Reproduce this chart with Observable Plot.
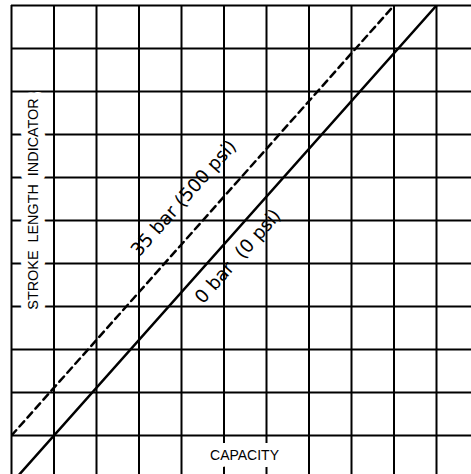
<!DOCTYPE html>
<html>
<head>
<meta charset="utf-8">
<script src="https://cdn.jsdelivr.net/npm/d3@7"></script>
<script src="https://cdn.jsdelivr.net/npm/@observablehq/plot@0.6"></script>
<style>
  html, body { margin: 0; padding: 0; background: #fff; }
  #chart svg { display: block; }
</style>
</head>
<body>
<div id="chart"></div>
<script>
// ---- data ----
const xTicks = [0, 1, 2, 3, 4, 5, 6, 7, 8, 9, 10];
const yTicks = [0, 1, 2, 3, 4, 5, 6, 7, 8, 9, 10];
const seriesNames = ["0 bar  (0 psi)", "35 bar (500 psi)"];
const solidX = [0.1, 10];   // 0 bar line (capacity)
const solidY = [-1, 10];    // stroke length
const dashedX = [0, 9];     // 35 bar line
const dashedY = [0, 10];
const xLabel = "CAPACITY";
const yLabel = "STROKE  LENGTH  INDICATOR";

// ---- layout ----
const W = 471, H = 474;
const xRange = [11, 436], yRange = [435, 5];
const kx = (xRange[1] - xRange[0]) / 10, ky = (yRange[0] - yRange[1]) / 10;

const solid = solidX.map((x, i) => ({x, y: solidY[i]}));
const dashed = dashedX.map((x, i) => ({x, y: dashedY[i]}));

// label placement along each line: fraction t, perpendicular pixel offset
function labelAlong(pts, t, off, text) {
  const [a, b] = pts;
  const y0 = 0, y1 = 10;
  const xa = a.x + (b.x - a.x) * (y0 - a.y) / (b.y - a.y);
  const xb = a.x + (b.x - a.x) * (y1 - a.y) / (b.y - a.y);
  const x = xa + t * (xb - xa), y = y0 + t * (y1 - y0);
  const px = (xb - xa) * kx, py = (y1 - y0) * ky;
  const len = Math.hypot(px, py);
  const nx = -py / len, ny = -px / len; // up-left normal in screen coords
  const angle = -Math.atan2(py, px) * 180 / Math.PI;
  return {x, y, dx: off * nx, dy: off * ny, angle, text};
}
const lblDashed = labelAlong(dashed, 0.507, 29, seriesNames[1]);
const lblSolid = labelAlong(solid, 0.445, -18.5, seriesNames[0]);

const font = "Liberation Sans, Arial, Helvetica, sans-serif";
const lineFont = "DejaVu Sans, sans-serif";

const plot = Plot.plot({
  width: W,
  height: H,
  marginLeft: 11,
  marginRight: 0,
  marginTop: 5,
  marginBottom: 0,
  style: {fontFamily: font, background: "#fff"},
  x: {domain: [0, 10], range: xRange, axis: null},
  y: {domain: [0, 10], range: yRange, axis: null},
  marks: [
    Plot.ruleX(xTicks, {stroke: "#000", strokeWidth: 2}),
    Plot.ruleY(yTicks, {stroke: "#000", strokeWidth: 2}),
    Plot.line(solid, {x: "x", y: "y", stroke: "#000", strokeWidth: 2.5, clip: true}),
    Plot.line(dashed, {x: "x", y: "y", stroke: "#000", strokeWidth: 2.5, strokeDasharray: "7,5", clip: true}),
    Plot.text([lblDashed], {x: "x", y: "y", text: "text", rotate: lblDashed.angle, dx: lblDashed.dx, dy: lblDashed.dy,
      fontSize: 18.5, fill: "#000", fontFamily: lineFont}),
    Plot.text([lblSolid], {x: "x", y: "y", text: "text", rotate: lblSolid.angle, dx: lblSolid.dx, dy: lblSolid.dy,
      fontSize: 18.5, fill: "#000", fontFamily: lineFont}),
    Plot.text([xLabel], {frameAnchor: "bottom", text: d => d, dx: 3, dy: -19, fontSize: 14, fill: "#000",
      textAnchor: "middle", lineAnchor: "middle",
      stroke: "#fff", strokeWidth: 14, strokeLinejoin: "round", paintOrder: "stroke", fontFamily: font}),
    Plot.text([yLabel], {frameAnchor: "left", text: d => d, rotate: -90, dx: 22, dy: -36, fontSize: 14.4, fill: "#000",
      textAnchor: "middle", lineAnchor: "middle",
      stroke: "#fff", strokeWidth: 14, strokeLinejoin: "round", paintOrder: "stroke", fontFamily: font})
  ]
});
document.getElementById("chart").appendChild(plot);
</script>
</body>
</html>
